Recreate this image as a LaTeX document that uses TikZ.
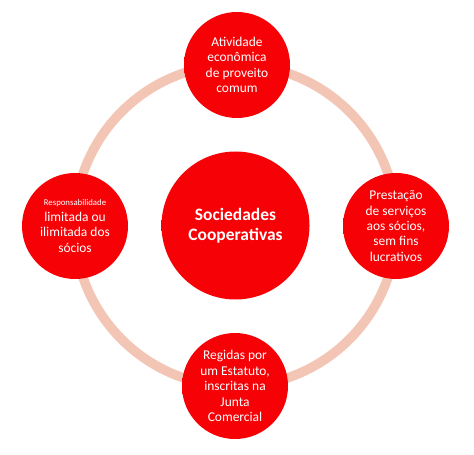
\documentclass[tikz,border=0pt]{standalone}
\usepackage{fontspec}
\setmainfont{Carlito}
\usepackage{xcolor}
\definecolor{coopred}{RGB}{246,2,6}
\definecolor{coopdark}{RGB}{200,0,4}
\definecolor{cooprim}{RGB}{252,170,170}
\definecolor{ringpeach}{RGB}{243,197,180}
\pgfdeclareradialshading{redbutton}{\pgfpoint{0bp}{0bp}}{color(0bp)=(coopred); color(30bp)=(coopred); color(33.6bp)=(coopred!85!white); color(34.6bp)=(coopdark); color(35.4bp)=(cooprim); color(50bp)=(cooprim)}

\begin{document}
\begin{tikzpicture}[x=1bp,y=-1bp,
  bubble/.style={circle, shading=redbutton, text=white, align=center,
    minimum size=106bp, inner sep=0pt, font=\fontsize{13.5}{15.5}\selectfont},
  hub/.style={bubble, minimum size=148bp, font=\bfseries\fontsize{17.5}{20}\selectfont}]
\useasboundingbox (0,0) rectangle (474,455);

% ring behind the circles
\draw[ringpeach, line width=9.5bp] (235.5,225.5) circle [radius=161];

\node[hub] (coop) at (235.5,225.5) {Sociedades\\Cooperativas};

\node[bubble] (atividade) at (237,65) {Atividade\\econômica\\de proveito\\comum};
\node[bubble] (prestacao) at (396,226) {Prestação\\de serviços\\aos sócios,\\sem fins\\lucrativos};
\node[bubble] (regidas) at (235,386) {Regidas por\\um Estatuto,\\inscritas na\\Junta\\Comercial};
\node[bubble] (responsab) at (75,226) {{\fontsize{8.8}{10.5}\selectfont Responsabilidade}\\limitada ou\\ilimitada dos\\sócios};

\end{tikzpicture}
\end{document}
